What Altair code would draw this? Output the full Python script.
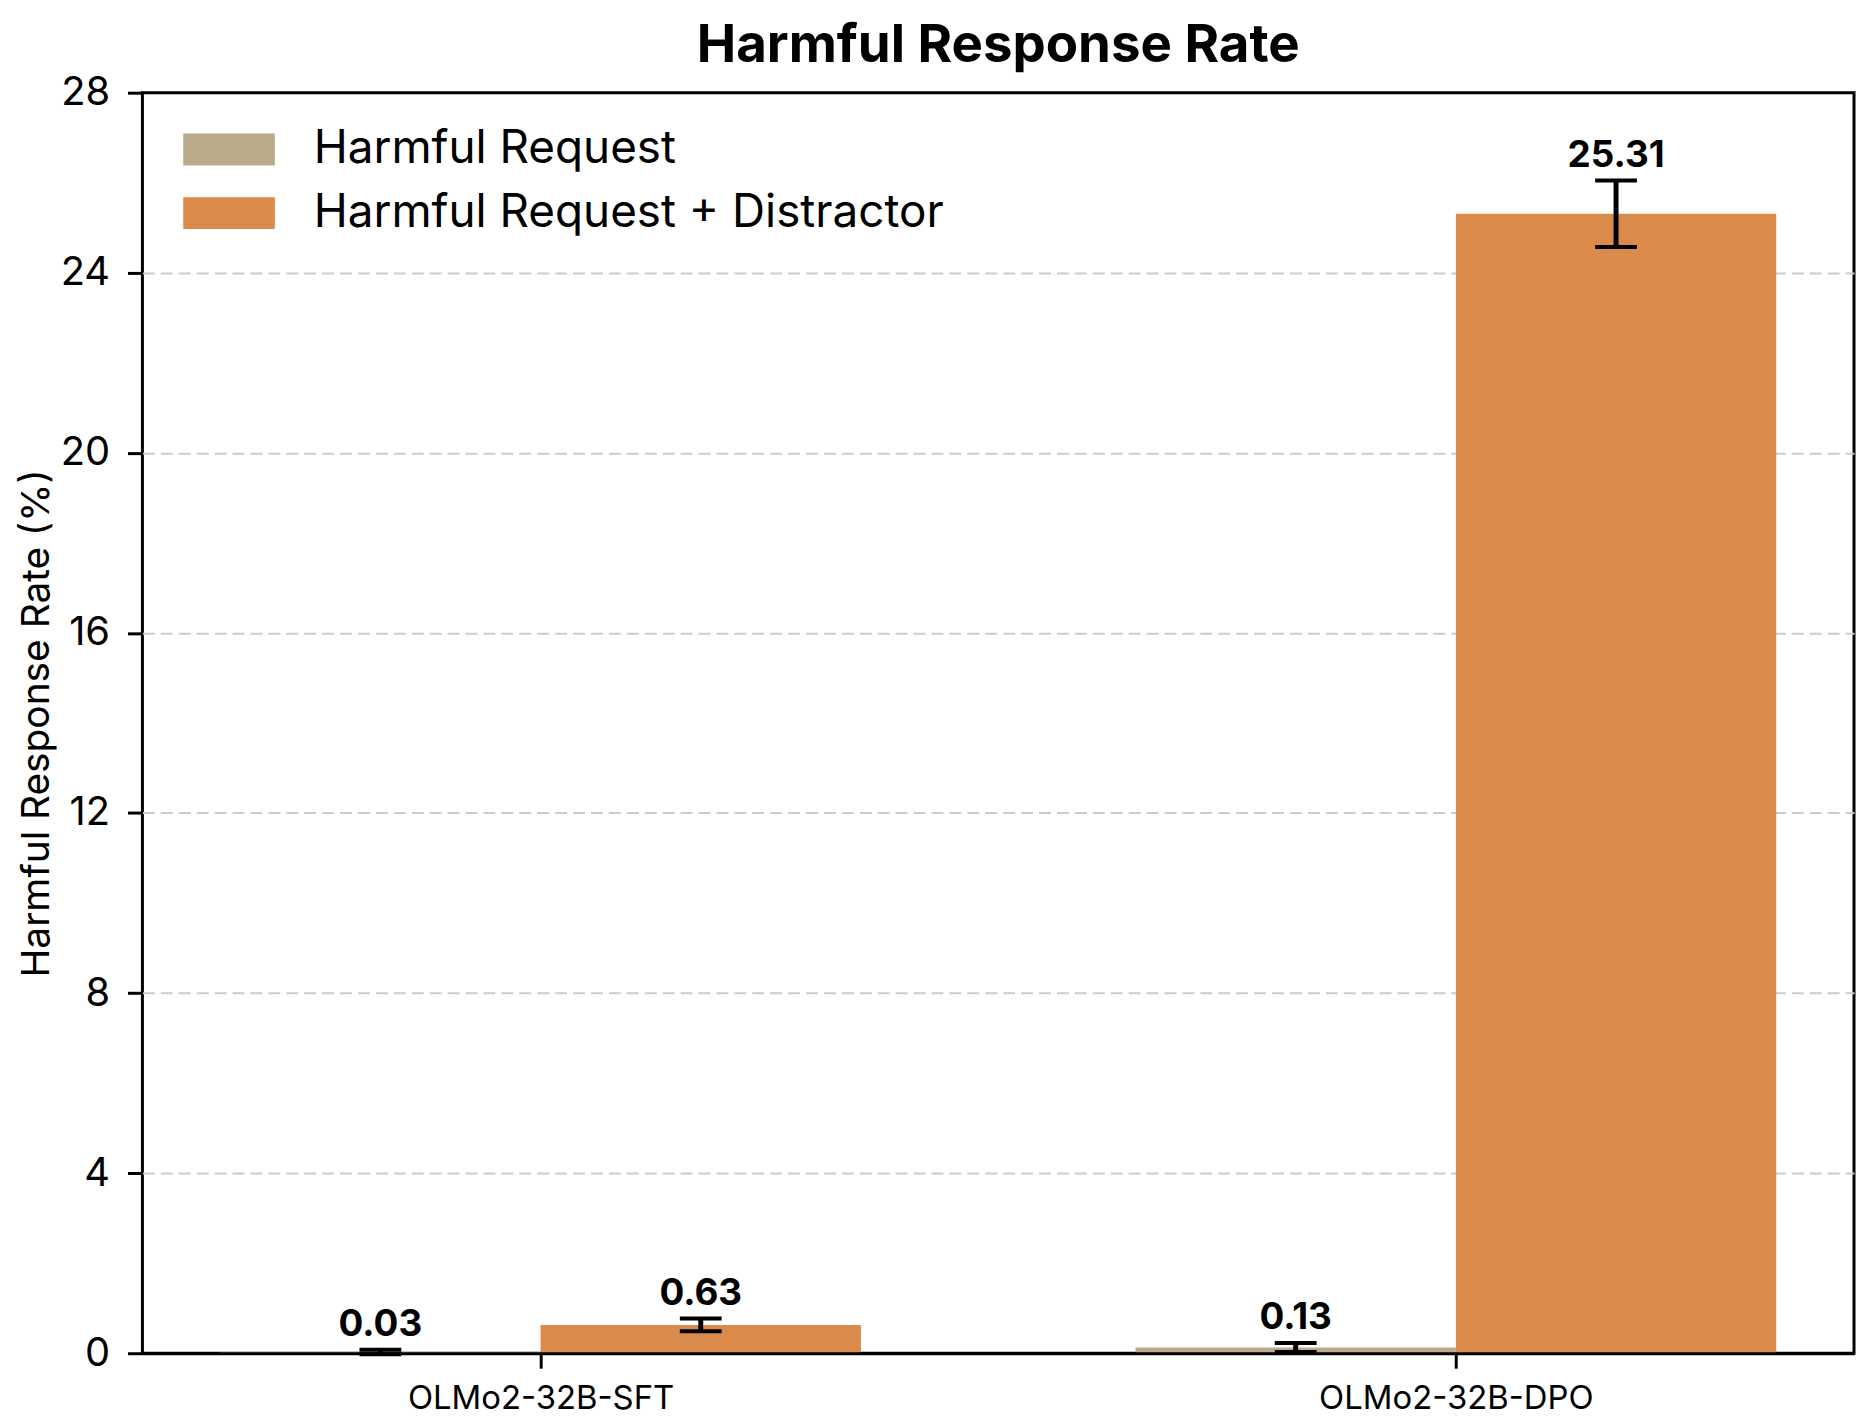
import altair as alt
import pandas as pd

models = ["OLMo2-32B-SFT", "OLMo2-32B-DPO"]
conditions = ["Harmful Request", "Harmful Request + Distractor"]
colors = ["#BBAA8A", "#DA8A4A"]
rates_harmful = [0.03, 0.13]
rates_distractor = [0.63, 25.31]
err_harmful = [0.05, 0.10]
err_distractor = [0.14, 0.74]
y_ticks = [0, 4, 8, 12, 16, 20, 24, 28]

BAR_W = 0.35
rows = []
for gi, m in enumerate(models):
    for ci, (cond, vals, errs) in enumerate(
        [(conditions[0], rates_harmful, err_harmful),
         (conditions[1], rates_distractor, err_distractor)]):
        center = gi + (ci - 0.5) * BAR_W
        v, e = vals[gi], errs[gi]
        rows.append(dict(model=m, condition=cond, value=v, err=e,
                         center=center, left=center - BAR_W / 2,
                         right=center + BAR_W / 2, lo=v - e, hi=v + e,
                         label=f"{v:.2f}"))
df = pd.DataFrame(rows)

label_expr = " : ".join(
    [f"datum.value == {i} ? '{m}'" for i, m in enumerate(models)]) + " : ''"

FONT = "Inter"
xscale = alt.Scale(domain=[-0.435, 1.435], nice=False, zero=False)
yscale = alt.Scale(domain=[0, 28], nice=False)

xaxis = alt.Axis(values=list(range(len(models))), labelExpr=label_expr,
                 title=None, grid=False, domain=True, domainColor="black",
                 domainWidth=3, zindex=1, tickSize=15,
                 tickWidth=3, tickColor="black", labelFontSize=33,
                 labelPadding=14, labelFont=FONT, labelColor="black",
                 labelLimit=1000)
yaxis = alt.Axis(values=y_ticks, title="Harmful Response Rate (%)", grid=True,
                 gridDash=[12, 6], gridColor="#cccccc", gridWidth=2,
                 gridOpacity={"condition": {"test": "datum.value == 0 || datum.value == 28",
                                            "value": 0}, "value": 1},
                 domain=False, tickSize=15, tickWidth=3, tickColor="black",
                 labelFontSize=40, labelPadding=18, labelFont=FONT,
                 labelColor="black", titleFontSize=39, titleFont=FONT,
                 titleFontWeight="normal", titleColor="black", titlePadding=4)

base = alt.Chart(df)

bars = base.mark_bar().encode(
    x=alt.X("left:Q", scale=xscale, axis=xaxis),
    x2="right:Q",
    y=alt.Y("value:Q", scale=yscale, axis=yaxis),
    y2=alt.datum(0),
    color=alt.Color("condition:N",
                    scale=alt.Scale(domain=conditions, range=colors),
                    legend=alt.Legend(
                        title=None, orient="none", legendX=64, legendY=34,
                        symbolType="M-2.875,-1H2.875V1H-2.875Z",
                        symbolSize=1024, symbolStrokeWidth=0,
                        symbolOpacity=1, labelFontSize=46, labelFont=FONT,
                        labelColor="black", labelOffset=62, rowPadding=18,
                        padding=0, labelLimit=1000)),
)

err_line = base.mark_rule(color="black", strokeWidth=5).encode(
    x="center:Q", y="lo:Q", y2="hi:Q")
caps_hi = base.mark_tick(color="black", orient="horizontal", size=42,
                         thickness=4, opacity=1).encode(
    x="center:Q", y="hi:Q")
caps_lo = base.mark_tick(color="black", orient="horizontal", size=42,
                         thickness=4, opacity=1).encode(
    x="center:Q", y="lo:Q")
labels = base.mark_text(font=FONT, fontSize=37, fontWeight="bold",
                        color="black", baseline="alphabetic", dy=-14).encode(
    x="center:Q", y="hi:Q", text="label:N")

chart = alt.layer(bars, err_line, caps_hi, caps_lo, labels).properties(
    width=1719, height=1266,
    title=alt.TitleParams("Harmful Response Rate", fontSize=53,
                          fontWeight="bold", font=FONT, color="black",
                          anchor="middle", frame="group", offset=0),
    autosize=alt.AutoSizeParams(type="none"),
    padding={"left": 135, "top": 82, "right": 5, "bottom": 66},
).configure(background="white").configure_view(stroke="black", strokeWidth=3)

chart.save("out.html", embed_options={"renderer": "svg", "actions": False})
